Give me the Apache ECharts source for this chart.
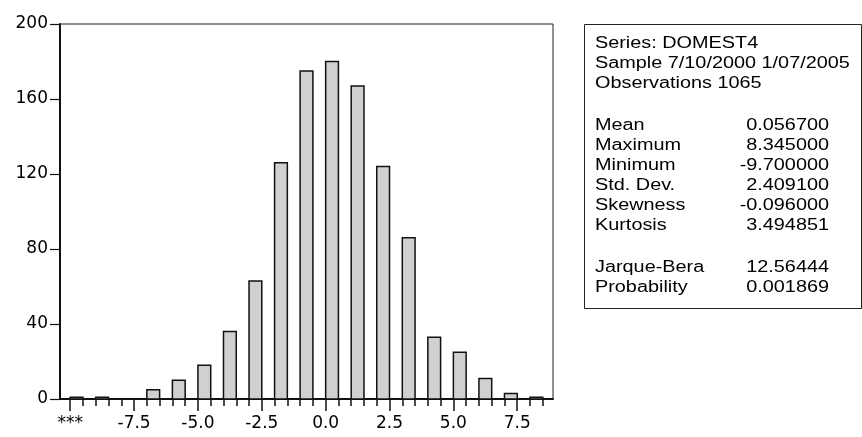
<!DOCTYPE html>
<html>
<head>
<meta charset="utf-8">
<script src="https://cdn.jsdelivr.net/npm/echarts@6/dist/echarts.min.js"></script>
<style>html,body{margin:0;padding:0;background:#fff}#c{width:862px;height:437px}</style>
</head>
<body>
<div id="c"></div>
<script>
// ---- data ----
const binCenters = [-9.75,-8.75,-7.75,-6.75,-5.75,-4.75,-3.75,-2.75,-1.75,-0.75,0.25,1.25,2.25,3.25,4.25,5.25,6.25,7.25,8.25];
const counts     = [1,1,0,5,10,18,36,63,126,175,180,167,124,86,33,25,11,3,1];
const xMajorTicks = [-10,-7.5,-5,-2.5,0,2.5,5,7.5];
const xTickLabels = ['***','-7.5','-5.0','-2.5','0.0','2.5','5.0','7.5'];
const xMinorTicks = [-10,-9.5,-9,-8.5,-8,-7.5,-7,-6.5,-6,-5.5,-5,-4.5,-4,-3.5,-3,-2.5,-2,-1.5,-1,-0.5,0,0.5,1,1.5,2,2.5,3,3.5,4,4.5,5,5.5,6,6.5,7,7.5,8,8.5];
const yTicks = [0,40,80,120,160,200];

const headerLines = ['Series: DOMEST4','Sample 7/10/2000 1/07/2005','Observations 1065'];
const statNames  = ['Mean','Maximum','Minimum','Std. Dev.','Skewness','Kurtosis'];
const statValues = ['0.056700','8.345000','-9.700000','2.409100','-0.096000','3.494851'];
const testNames  = ['Jarque-Bera','Probability'];
const testValues = ['12.56444','0.001869'];

// ---- chart ----
const BOXFONT = '16px "Liberation Sans", Arial, sans-serif';
const AXFONT = 'DejaVu Sans';
const AXFS = 17;
const SX = 1.24;
const chart = echarts.init(document.getElementById('c'));

const graphics = [];
graphics.push({type:'rect', shape:{x:584.5, y:24.5, width:277, height:284}, style:{fill:'none', stroke:'#222', lineWidth:1}});
const lineH = 20;
let y = 44;
function addLine(label, value){
  graphics.push({type:'text', x:595, y:y, scaleX:SX, style:{text:label, font:BOXFONT, fill:'#000', textVerticalAlign:'middle'}});
  if (value !== undefined) graphics.push({type:'text', x:829, y:y, scaleX:SX, style:{text:value, font:BOXFONT, fill:'#000', textAlign:'right', textVerticalAlign:'middle'}});
  y += lineH;
}
headerLines.forEach(l => addLine(l));
y += lineH + 2;
statNames.forEach((n,i) => addLine(n, statValues[i]));
y += lineH + 2;
testNames.forEach((n,i) => addLine(n, testValues[i]));

chart.setOption({
  animation:false,
  grid:{left:60, right:309, top:24, bottom:38, show:true, borderColor:'#222', borderWidth:1, backgroundColor:'transparent'},
  xAxis:[{
    type:'value', min:-10.4, max:8.9,
    axisLine:{show:true, onZero:false, lineStyle:{color:'#111', width:2}},
    axisTick:{show:true, customValues:xMajorTicks, length:12, lineStyle:{color:'#111', width:1.5}},
    axisLabel:{show:true, customValues:xMajorTicks, margin:16, fontFamily:AXFONT, fontSize:AXFS, color:'#000',
      formatter:function(v){ const i = xMajorTicks.indexOf(v); return i>=0 ? xTickLabels[i] : ''; }},
    splitLine:{show:false}
  },{
    type:'value', min:-10.4, max:8.9, position:'bottom',
    axisLine:{show:false, onZero:false},
    axisTick:{show:true, customValues:xMinorTicks, length:7, lineStyle:{color:'#111', width:1.5}},
    axisLabel:{show:false},
    splitLine:{show:false}
  }],
  yAxis:{
    type:'value', min:0, max:200, interval:40,
    axisLine:{show:true, onZero:false, lineStyle:{color:'#111', width:2}},
    axisTick:{show:true, length:10, lineStyle:{color:'#111', width:1.2}},
    axisLabel:{margin:12, fontFamily:AXFONT, fontSize:AXFS, color:'#000'},
    splitLine:{show:false}
  },
  series:[{
    type:'custom', xAxisIndex:0, yAxisIndex:0,
    data: binCenters.map((c,i)=>[c, counts[i]]),
    renderItem:function(params, api){
      const a = api.coord([api.value(0)-0.25, api.value(1)]);
      const b = api.coord([api.value(0)+0.25, 0]);
      return {type:'rect', shape:{x:a[0], y:a[1], width:b[0]-a[0], height:b[1]-a[1]},
        style:{fill:'#d0d0d0', stroke:'#111', lineWidth:1.5}};
    }
  }],
  graphic: graphics
});
</script>
</body>
</html>
